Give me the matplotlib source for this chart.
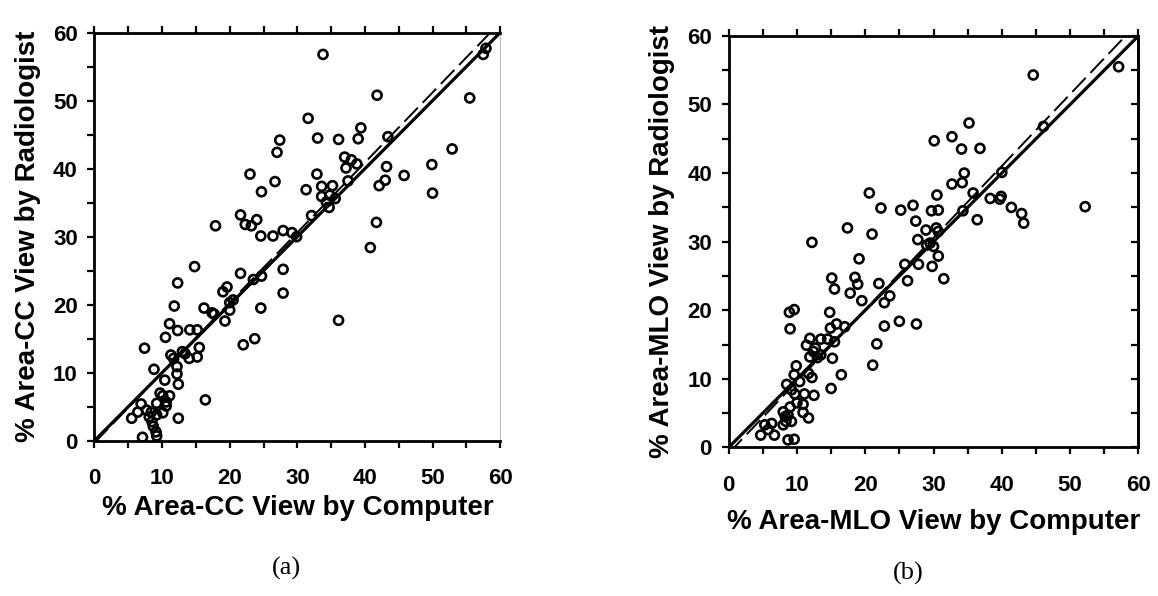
import numpy as np
import matplotlib.pyplot as plt

# % area of dense tissue, computer vs radiologist, CC view (panel a)
cc_computer = [27.4, 27.0, 23.0, 26.7, 24.7, 21.6, 17.9, 22.3, 23.2, 24.0, 24.6, 26.4, 27.9,
               33.8, 57.5, 57.9, 41.8, 55.5, 31.6, 39.4, 39.0, 33.0, 36.1, 43.4, 52.9, 37.0,
               38.0, 38.8, 37.2, 43.2, 49.9, 32.9, 45.8, 37.5, 43.0, 42.1, 33.6, 35.2, 31.3,
               33.6, 34.8, 34.3, 35.6, 34.7, 50.0, 32.1, 41.7, 29.2, 29.9, 40.8, 27.9, 27.9,
               36.1, 14.8, 21.6, 24.7, 23.5, 12.3, 19.0, 19.6, 11.8, 16.2, 24.6, 20.0, 20.5,
               20.0, 17.7, 17.4, 19.3, 11.1, 12.3, 14.1, 15.2, 10.5, 22.0, 23.7, 7.4, 15.5,
               11.3, 13.0, 13.4, 14.0, 15.2, 11.7, 12.2, 12.2, 8.8, 12.4, 10.4, 16.4, 9.7,
               10.1, 11.1, 10.6, 9.2, 10.6, 6.9, 7.7, 6.4, 8.4, 10.1, 9.2, 5.5, 12.4, 8.5,
               8.7, 7.1, 9.1, 9.2, 8.1]
cc_radiologist = [44.2, 42.4, 39.2, 38.1, 36.6, 33.2, 31.6, 31.8, 31.6, 32.5, 30.1, 30.1, 30.9,
                  56.8, 56.8, 57.7, 50.8, 50.4, 47.4, 46.0, 44.4, 44.5, 44.3, 44.7, 42.9, 41.7,
                  41.3, 40.7, 40.1, 40.3, 40.6, 39.2, 39.0, 38.2, 38.3, 37.5, 37.4, 37.5, 36.9,
                  35.9, 36.1, 35.1, 35.6, 34.3, 36.4, 33.1, 32.1, 30.6, 30.0, 28.4, 25.2, 21.7,
                  17.7, 25.6, 24.6, 24.2, 23.7, 23.2, 21.9, 22.6, 19.8, 19.5, 19.5, 20.3, 20.7,
                  19.2, 18.6, 18.8, 17.6, 17.2, 16.2, 16.3, 16.3, 15.2, 14.1, 15.0, 13.6, 13.7,
                  12.6, 13.1, 12.8, 12.1, 12.3, 12.1, 10.9, 9.8, 10.5, 8.3, 8.9, 6.0, 7.0,
                  6.6, 6.6, 5.7, 5.5, 5.1, 5.4, 4.5, 4.2, 4.2, 4.1, 3.8, 3.3, 3.3, 2.8,
                  2.1, 0.5, 1.3, 0.7, 3.5]

# MLO view (panel b)
mlo_computer = [30.1, 20.6, 30.5, 22.3, 25.2, 27.0, 29.7, 27.4, 28.9, 17.4, 21.0, 12.2, 27.7,
                30.4, 57.1, 44.6, 35.2, 32.7, 34.1, 36.8, 46.1, 34.5, 40.0, 32.7, 34.2, 35.8,
                38.3, 39.9, 39.7, 41.4, 42.9, 43.2, 52.2, 30.7, 34.3, 36.4, 30.7, 29.5, 30.0,
                29.0, 30.7, 29.8, 31.5, 19.1, 25.8, 27.8, 15.1, 15.5, 18.5, 18.9, 22.0, 26.2,
                17.8, 23.6, 22.8, 19.5, 8.9, 9.6, 9.0, 14.8, 14.9, 15.8, 17.0, 22.8, 25.0,
                27.5, 11.9, 13.5, 14.5, 15.5, 11.4, 12.7, 12.4, 13.5, 11.9, 13.0, 15.2, 21.7,
                21.1, 9.9, 9.6, 11.7, 12.2, 10.4, 16.5, 15.0, 8.5, 9.2, 9.7, 11.1, 12.5,
                10.9, 10.0, 9.0, 10.9, 11.7, 8.0, 8.3, 8.7, 8.4, 9.2, 8.0, 5.3, 6.3,
                6.7, 4.7, 8.7, 9.6, 5.8]
mlo_radiologist = [44.7, 37.1, 36.8, 34.9, 34.6, 35.3, 34.5, 33.0, 31.7, 32.0, 31.1, 29.9, 30.3,
                   32.0, 55.5, 54.3, 47.3, 45.3, 43.5, 43.6, 46.8, 40.0, 40.1, 38.4, 38.6, 37.1,
                   36.3, 36.6, 36.2, 35.0, 34.1, 32.7, 35.1, 34.6, 34.5, 33.2, 31.5, 29.8, 29.3,
                   29.5, 27.9, 26.4, 24.6, 27.5, 26.7, 26.7, 24.7, 23.1, 24.8, 23.8, 23.9, 24.3,
                   22.5, 22.1, 21.1, 21.4, 19.7, 20.1, 17.3, 19.7, 17.4, 18.0, 17.6, 17.7, 18.4,
                   18.0, 15.9, 15.8, 15.8, 15.4, 14.9, 14.5, 14.0, 13.5, 13.2, 13.1, 13.0, 15.1,
                   12.0, 11.9, 10.6, 10.8, 10.2, 9.6, 10.6, 8.6, 9.2, 8.4, 7.8, 7.8, 7.6,
                   6.3, 6.5, 5.9, 5.1, 4.3, 5.2, 4.5, 4.7, 3.8, 3.8, 3.3, 3.3, 3.5,
                   1.8, 1.8, 1.1, 1.2, 2.6]

# fitted (dashed) lines: slope, intercept
cc_fit = (1.03, -0.3)
mlo_fit = (1.047, -0.85)

views = ['CC', 'MLO']
captions = ['(a)', '(b)']

plt.rcParams['font.family'] = ['Liberation Sans', 'DejaVu Sans']

fig = plt.figure(figsize=(11.58, 5.96), dpi=100)
ax_a = fig.add_axes([0.0816, 0.2606, 0.3503, 0.6846])
ax_b = fig.add_axes([0.6292, 0.2492, 0.3539, 0.6906])

panels = [(ax_a, cc_computer, cc_radiologist, cc_fit),
          (ax_b, mlo_computer, mlo_radiologist, mlo_fit)]

for i, (ax, xs, ys, fit) in enumerate(panels):
    ax.scatter(xs, ys, s=42, facecolors='none', edgecolors='black', linewidths=1.9, zorder=3)

    # identity line and regression line
    line = np.array([0, 60])
    ax.plot(line, line, color='black', lw=2.3, zorder=2)
    slope, icpt = fit
    xe = (60 - icpt) / slope
    ax.plot([0, xe], [icpt, 60], color='black', lw=1.4, dashes=(10, 3.5), zorder=2)

    ax.set_xlim(0, 60)
    ax.set_ylim(0, 60)
    ax.set_xticks(np.arange(0, 61, 10))
    ax.set_yticks(np.arange(0, 61, 10))
    ax.set_xticks(np.arange(5, 60, 10), minor=True)
    ax.set_yticks(np.arange(5, 60, 10), minor=True)

    for s in ax.spines.values():
        s.set_linewidth(2)

    ax.tick_params(which='both', direction='out', length=5, width=1.6,
                   top=True, labelsize=16)
    ax.tick_params(axis='x', which='major', pad=15)
    ax.tick_params(axis='y', which='major', pad=7)
    for lab in ax.get_xticklabels() + ax.get_yticklabels():
        lab.set_fontweight('bold')

    ax.set_xlabel('% Area-' + views[i] + ' View by Computer', fontsize=20,
                  fontweight='bold', labelpad=9 if i else 4)
    ax.set_ylabel('% Area-' + views[i] + ' View by Radiologist', fontsize=20,
                  fontweight='bold', labelpad=9)

# panel (a) has a faint right border
ax_a.spines['right'].set_linewidth(0.8)
ax_a.spines['right'].set_color('#bbbbbb')

# panel (b) has inward ticks on the right border
sec = ax_b.secondary_yaxis('right')
sec.set_yticks(np.arange(0, 61, 10))
sec.set_yticks(np.arange(5, 60, 10), minor=True)
sec.tick_params(which='both', direction='in', length=5, width=1.6, labelright=False)
sec.spines['right'].set_linewidth(2)

fig.text(0.2476, 0.036, captions[0], fontsize=19, family='Liberation Serif', ha='center')
fig.text(0.7845, 0.028, captions[1], fontsize=19, family='Liberation Serif', ha='center')

fig.savefig('out.png', dpi=100)
